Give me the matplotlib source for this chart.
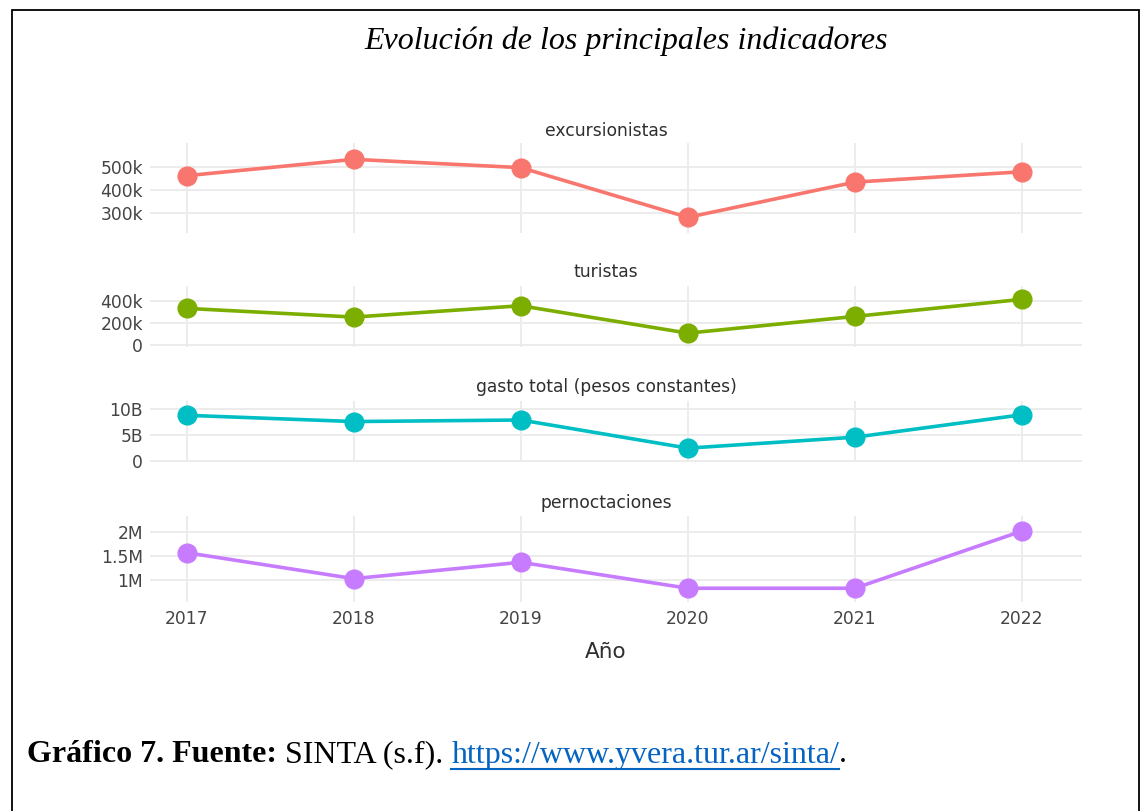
import matplotlib
matplotlib.use("Agg")
import matplotlib.pyplot as plt
from matplotlib.ticker import FuncFormatter
from matplotlib.patches import Rectangle
from matplotlib.lines import Line2D

years = [2017, 2018, 2019, 2020, 2021, 2022]
excursionistas = [461e3, 532e3, 496e3, 280e3, 433e3, 478e3]
turistas = [333e3, 254e3, 357e3, 108e3, 260e3, 415e3]
gasto_total = [8.8e9, 7.6e9, 7.9e9, 2.5e9, 4.6e9, 8.9e9]
pernoctaciones = [1.57e6, 1.03e6, 1.37e6, 0.83e6, 0.83e6, 2.02e6]

panel_titles = ["excursionistas", "turistas", "gasto total (pesos constantes)", "pernoctaciones"]
series = [excursionistas, turistas, gasto_total, pernoctaciones]
colors = ["#F8766D", "#7CAE00", "#00BFC4", "#C77CFF"]
yticks = [[300e3, 400e3, 500e3], [0, 200e3, 400e3], [0, 5e9, 10e9], [1e6, 1.5e6, 2e6]]
ylims = [(212e3, 603e3), (-15e3, 539e3), (-0.1e9, 11.6e9), (0.55e6, 2.34e6)]

title_text = "Evolución de los principales indicadores"
xlabel_text = "Año"
caption_bold = "Gráfico 7. Fuente:"
caption_plain = " SINTA (s.f). "
caption_link = "https://www.yvera.tur.ar/sinta/"
caption_end = "."

W, H = 1141, 811
fig = plt.figure(figsize=(W / 100, H / 100), dpi=100)
fig.patch.set_facecolor("white")

# border
fig.add_artist(Rectangle((12 / W, -0.01), (1139 - 12) / W, 1 - 10 / H + 0.01,
                         transform=fig.transFigure, fill=False, edgecolor="black", lw=1.3))

fig.text(626 / W, 1 - 41 / H, title_text, ha="center", va="center",
         family="Liberation Serif", style="italic", fontsize=23, color="black")

# panel pixel extents (top, bottom) and subplot-title centers
panels_px = [(143, 233), (285.7, 346.7), (400.7, 461.7), (515.7, 601.7)]
title_y_px = [131, 272, 387, 503]
x_left, x_right = 150, 1082


def fmt(v, pos):
    if v == 0:
        return "0"
    if abs(v) >= 1e9:
        s = v / 1e9
        suf = "B"
    elif abs(v) >= 1e6:
        s = v / 1e6
        suf = "M"
    else:
        s = v / 1e3
        suf = "k"
    if s == int(s):
        return f"{int(s)}{suf}"
    return f"{s:g}{suf}"


tick_color = "#444444"
for i, (top, bot) in enumerate(panels_px):
    ax = fig.add_axes([x_left / W, 1 - bot / H, (x_right - x_left) / W, (bot - top) / H])
    ax.set_facecolor("white")
    ax.plot(years, series[i], color=colors[i], lw=2.6, marker="o", markersize=13.5,
            zorder=3, clip_on=False)
    ax.set_xlim(2016.78, 2022.36)
    ax.set_ylim(*ylims[i])
    ax.set_yticks(yticks[i])
    ax.yaxis.set_major_formatter(FuncFormatter(fmt))
    ax.set_xticks(years)
    ax.grid(True, color="#ebebeb", lw=1.3)
    ax.set_axisbelow(True)
    for s in ax.spines.values():
        s.set_visible(False)
    ax.tick_params(length=0, labelsize=12.3, colors=tick_color, pad=5)
    for lab in ax.get_yticklabels() + ax.get_xticklabels():
        lab.set_family("DejaVu Sans")
    if i < 3:
        ax.tick_params(labelbottom=False)
    else:
        ax.tick_params(axis="x", pad=6)
    fig.text(606 / W, 1 - title_y_px[i] / H, panel_titles[i], ha="center", va="center",
             family="DejaVu Sans", fontsize=12.3, color="#2f2f2f")

fig.text(606 / W, 1 - 652 / H, xlabel_text, ha="center", va="center",
         family="DejaVu Sans", fontsize=15.5, color="#2f2f2f")

# caption built from pieces
fig.canvas.draw()
renderer = fig.canvas.get_renderer()
cy = 1 - 755 / H
fs = 23
x = 27 / W
t1 = fig.text(x, cy, caption_bold, ha="left", va="center", family="Liberation Serif",
              weight="bold", fontsize=fs, color="black")
bb = t1.get_window_extent(renderer)
x = bb.x1 / W
t2 = fig.text(x, cy, caption_plain, ha="left", va="center", family="Liberation Serif",
              fontsize=fs, color="black")
bb = t2.get_window_extent(renderer)
x = bb.x1 / W
t3 = fig.text(x, cy, caption_link, ha="left", va="center", family="Liberation Serif",
              fontsize=fs, color="#0563C1")
bb3 = t3.get_window_extent(renderer)
fig.add_artist(Line2D([bb3.x0 / W, bb3.x1 / W], [1 - 769 / H, 1 - 769 / H],
                      transform=fig.transFigure, color="#0563C1", lw=1.5))
x = bb3.x1 / W
fig.text(x, cy, caption_end, ha="left", va="center", family="Liberation Serif",
         fontsize=fs, color="black")

fig.savefig("out.png", dpi=100, facecolor="white")
